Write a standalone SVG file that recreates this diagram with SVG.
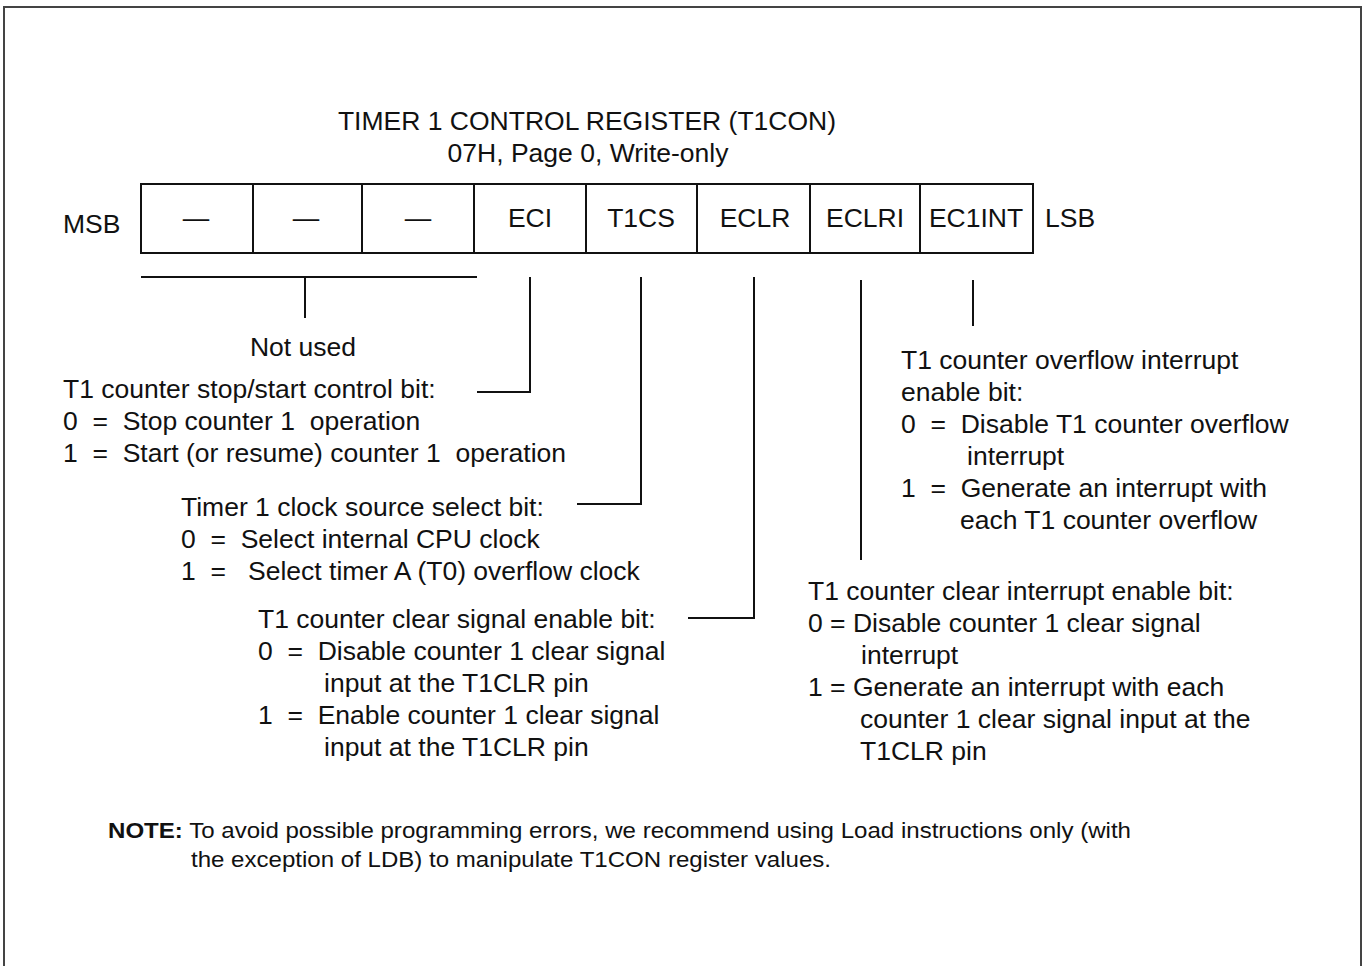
<svg xmlns="http://www.w3.org/2000/svg" width="1362" height="966" viewBox="0 0 1362 966">
  <style>
    text { font-family: "Liberation Sans", Arial, sans-serif; fill: #111; white-space: pre; }
    .t { font-size: 26.5px; }
    .c { text-anchor: middle; }
    .n { font-size: 22px; }
    .b { font-weight: bold; }
    .ln { stroke: #111; stroke-width: 2; fill: none; }
  </style>
  <rect x="0" y="0" width="1362" height="966" fill="#fff"/>
  <!-- frame (open at the bottom) -->
  <path d="M4,970 V7 H1361 V970" fill="none" stroke="#444" stroke-width="2"/>

  <g id="title">
    <text class="t c" x="587" y="130">TIMER 1 CONTROL REGISTER (T1CON)</text>
    <text class="t c" x="588" y="162">07H, Page 0, Write-only</text>
  </g>

  <g id="register">
    <rect class="ln" x="141" y="184" width="892" height="69"/>
    <path class="ln" d="M253,184 V253 M362,184 V253 M474,184 V253 M586,184 V253 M697,184 V253 M810,184 V253 M920,184 V253"/>
    <text class="t" x="63" y="233">MSB</text>
    <text class="t" x="1045" y="227">LSB</text>
    <text class="t c" x="196" y="227">—</text>
    <text class="t c" x="306" y="227">—</text>
    <text class="t c" x="418" y="227">—</text>
    <text class="t c" x="530" y="227">ECI</text>
    <text class="t c" x="641" y="227">T1CS</text>
    <text class="t c" x="755" y="227">ECLR</text>
    <text class="t c" x="865" y="227">ECLRI</text>
    <text class="t c" x="976" y="227">EC1INT</text>
  </g>

  <g id="connectors">
    <path class="ln" d="M141,277 H477 M305,277 V318"/>
    <path class="ln" d="M530,277 V392 H477"/>
    <path class="ln" d="M641,277 V504 H577"/>
    <path class="ln" d="M754,277 V618 H688"/>
    <path class="ln" d="M861,280 V560"/>
    <path class="ln" d="M973,280 V326"/>
  </g>

  <g id="not-used">
    <text class="t c" x="303" y="356">Not used</text>
  </g>

  <g id="eci">
    <text class="t" x="63" y="398">T1 counter stop/start control bit:</text>
    <text class="t" x="63" y="430">0  =  Stop counter 1  operation</text>
    <text class="t" x="63" y="462">1  =  Start (or resume) counter 1  operation</text>
  </g>

  <g id="t1cs">
    <text class="t" x="181" y="516">Timer 1 clock source select bit:</text>
    <text class="t" x="181" y="548">0  =  Select internal CPU clock</text>
    <text class="t" x="181" y="580">1  =   Select timer A (T0) overflow clock</text>
  </g>

  <g id="eclr">
    <text class="t" x="258" y="628">T1 counter clear signal enable bit:</text>
    <text class="t" x="258" y="660">0  =  Disable counter 1 clear signal</text>
    <text class="t" x="324" y="692">input at the T1CLR pin</text>
    <text class="t" x="258" y="724">1  =  Enable counter 1 clear signal</text>
    <text class="t" x="324" y="756">input at the T1CLR pin</text>
  </g>

  <g id="eclri">
    <text class="t" x="808" y="600">T1 counter clear interrupt enable bit:</text>
    <text class="t" x="808" y="632">0 = Disable counter 1 clear signal</text>
    <text class="t" x="861" y="664">interrupt</text>
    <text class="t" x="808" y="696">1 = Generate an interrupt with each</text>
    <text class="t" x="860" y="728">counter 1 clear signal input at the</text>
    <text class="t" x="860" y="760">T1CLR pin</text>
  </g>

  <g id="ec1int">
    <text class="t" x="901" y="369">T1 counter overflow interrupt</text>
    <text class="t" x="901" y="401">enable bit:</text>
    <text class="t" x="901" y="433">0  =  Disable T1 counter overflow</text>
    <text class="t" x="967" y="465">interrupt</text>
    <text class="t" x="901" y="497">1  =  Generate an interrupt with</text>
    <text class="t" x="960" y="529">each T1 counter overflow</text>
  </g>

  <g id="note">
    <text class="n" x="108" y="838" textLength="1023" lengthAdjust="spacingAndGlyphs"><tspan class="b">NOTE:</tspan> To avoid possible programming errors, we recommend using Load instructions only (with</text>
    <text class="n" x="191" y="867" textLength="640" lengthAdjust="spacingAndGlyphs">the exception of LDB) to manipulate T1CON register values.</text>
  </g>
</svg>
